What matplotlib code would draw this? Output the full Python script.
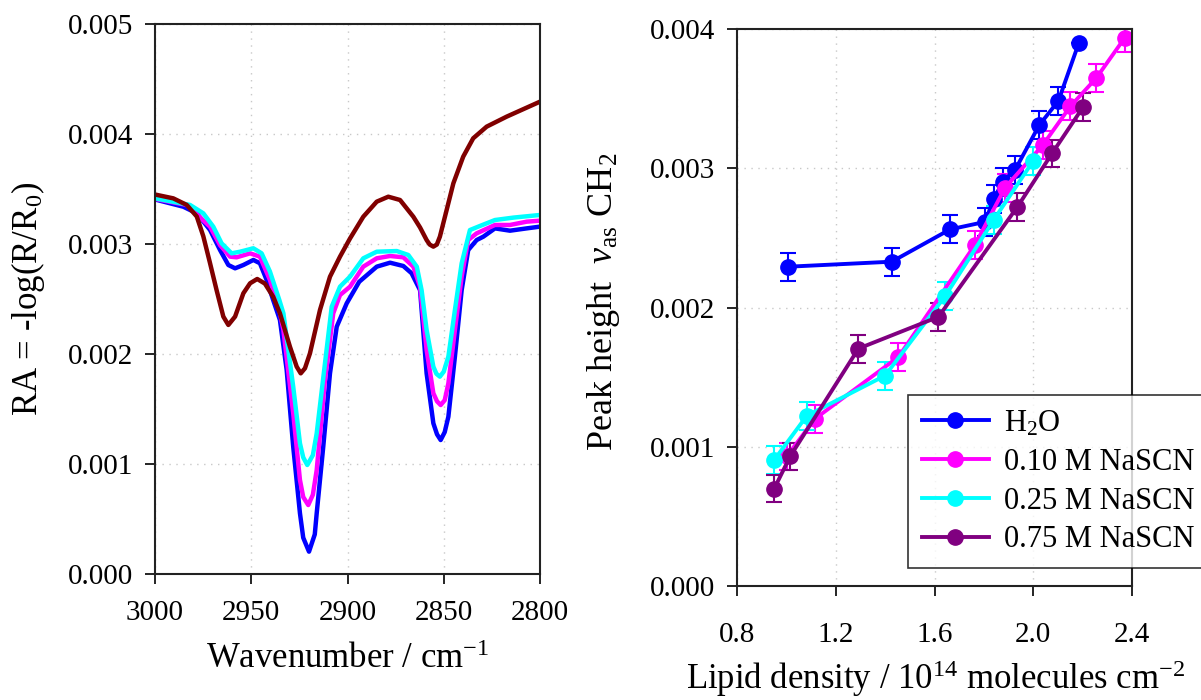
import numpy as np
import matplotlib
matplotlib.use("Agg")
import matplotlib.pyplot as plt
from matplotlib.lines import Line2D
from matplotlib.ticker import MultipleLocator, FormatStrFormatter

plt.rcParams['font.family'] = ['Liberation Serif', 'DejaVu Serif']
plt.rcParams['mathtext.fontset'] = 'custom'
plt.rcParams['mathtext.rm'] = 'Liberation Serif'
plt.rcParams['mathtext.it'] = 'Liberation Serif:italic'

# ---- left panel: IR spectra (RA x 1e-3) ----
wn_h2o = [3000, 2985.3, 2978.3, 2971.4, 2966.2, 2961.9, 2958.4, 2954.1, 2948.9, 2945.5,
          2942, 2938.6, 2935.1, 2931.6, 2928.2, 2924.7, 2923, 2920, 2917, 2916, 2912.6,
          2909.1, 2905.6, 2900.4, 2893.9, 2884.8, 2877.9, 2871, 2866.7, 2862.3, 2858.9,
          2855.4, 2853.5, 2851.6, 2849.5, 2847.6, 2844.2, 2840.7, 2837.3, 2832.9, 2829.4,
          2823.4, 2815.6, 2806.9, 2800]
ra_h2o = [3.405, 3.339, 3.279, 3.127, 2.945, 2.809, 2.779, 2.809, 2.855, 2.825,
          2.673, 2.49, 2.309, 1.855, 1.157, 0.552, 0.33, 0.203, 0.36, 0.552, 1.157,
          1.824, 2.248, 2.461, 2.657, 2.794, 2.83, 2.8, 2.734, 2.58, 1.824,
          1.37, 1.27, 1.218, 1.29, 1.43, 1.976, 2.58, 2.945, 3.036, 3.067,
          3.142, 3.121, 3.142, 3.158]

wn_010 = [3000, 2983.5, 2971.4, 2966.2, 2961, 2957.6, 2950.6, 2945.5, 2940.3, 2935.4,
          2933.3, 2928.2, 2924.7, 2923, 2920.4, 2918, 2916, 2911.7, 2907.4, 2903.9,
          2898.7, 2891.8, 2884.8, 2877.9, 2871, 2865.8, 2862.3, 2858.9, 2855.4, 2853.5,
          2851.6, 2849.5, 2847.6, 2844.2, 2840.7, 2837.3, 2832.9, 2823.4, 2815.6, 2806.9,
          2800]
ra_010 = [3.41, 3.355, 3.157, 2.99, 2.885, 2.879, 2.915, 2.885, 2.673, 2.4,
          2.218, 1.46, 0.855, 0.70, 0.627, 0.72, 0.945, 1.764, 2.37, 2.536,
          2.612, 2.794, 2.87, 2.891, 2.879, 2.794, 2.612, 2.036, 1.643, 1.57,
          1.536, 1.58, 1.733, 2.218, 2.703, 3.036, 3.097, 3.173, 3.173, 3.203,
          3.212]

wn_025 = [3000, 2981.8, 2974.9, 2969.7, 2965.4, 2960.2, 2955.8, 2948.9, 2944.6, 2940.3,
          2935.4, 2933.3, 2928.2, 2924.7, 2923, 2920.9, 2918, 2916, 2911.7, 2908.2,
          2903.9, 2898.7, 2891.8, 2884.8, 2874.4, 2868.4, 2864, 2861.5, 2858.9, 2855.4,
          2853.8, 2852, 2850, 2847.6, 2844.2, 2840.7, 2836.4, 2831.2, 2823.4, 2813.8,
          2800]
ra_025 = [3.415, 3.355, 3.279, 3.157, 3.006, 2.915, 2.93, 2.961, 2.915, 2.75,
          2.49, 2.37, 1.703, 1.188, 1.06, 0.991, 1.08, 1.279, 1.915, 2.43,
          2.612, 2.703, 2.87, 2.93, 2.936, 2.9, 2.794, 2.58, 2.218, 1.885,
          1.82, 1.794, 1.84, 1.976, 2.4, 2.824, 3.127, 3.164, 3.218, 3.24,
          3.264]

wn_075 = [3000, 2990.5, 2983.5, 2978.3, 2974.9, 2971.4, 2968, 2964.5, 2961.9, 2958.4,
          2954.1, 2950.6, 2946.9, 2942.9, 2938.6, 2935.1, 2929.9, 2926.4, 2924.3, 2922.1,
          2919.5, 2914.3, 2909.1, 2903.9, 2898.7, 2891.8, 2884.8, 2878.8, 2872.7, 2865.8,
          2862.3, 2858.9, 2857.3, 2855.4, 2853.6, 2852, 2848.5, 2845, 2839.9, 2834.7,
          2827.7, 2817.3, 2800]
ra_075 = [3.45, 3.415, 3.355, 3.25, 3.07, 2.825, 2.58, 2.34, 2.264, 2.34,
          2.552, 2.643, 2.682, 2.64, 2.52, 2.37, 2.066, 1.885, 1.824, 1.87,
          2.006, 2.4, 2.703, 2.885, 3.05, 3.248, 3.385, 3.43, 3.4, 3.248,
          3.15, 3.036, 2.995, 2.976, 2.995, 3.067, 3.309, 3.552, 3.794, 3.961,
          4.067, 4.158, 4.294]

# ---- right panel: peak height (x 1e-3) vs lipid density ----
dens_h2o = [1.008, 1.427, 1.663, 1.805, 1.839, 1.877, 1.927, 2.024, 2.102, 2.184]
peak_h2o = [2.293, 2.329, 2.561, 2.615, 2.777, 2.904, 2.99, 3.309, 3.484, 3.897]
err_h2o = [0.1, 0.1, 0.1, 0.1, 0.1, 0.1, 0.1, 0.1, 0.1, 0.0]

dens_010 = [1.001, 1.116, 1.454, 1.763, 1.886, 2.038, 2.150, 2.255, 2.370]
peak_010 = [0.93, 1.201, 1.645, 2.447, 2.861, 3.165, 3.444, 3.647, 3.935]
err_010 = [0.1] * 9

dens_025 = [0.951, 1.083, 1.40, 1.643, 1.839, 1.999]
peak_025 = [0.906, 1.223, 1.511, 2.081, 2.627, 3.05]
err_025 = [0.1] * 6

dens_075 = [0.951, 1.015, 1.292, 1.616, 1.936, 2.076, 2.201]
peak_075 = [0.70, 0.93, 1.705, 1.933, 2.723, 3.106, 3.437]
err_075 = [0.1] * 7

labels = ['H$_2$O', '0.10 M NaSCN', '0.25 M NaSCN', '0.75 M NaSCN']

fig = plt.figure(figsize=(12.01, 7.0), dpi=100)
ax1 = fig.add_axes([155 / 1201, 126 / 700, 385 / 1201, 550 / 700])
ax2 = fig.add_axes([737 / 1201, 114 / 700, 395 / 1201, 557 / 700])

grid_kw = dict(color='#c8c8c8', linestyle=(0, (1, 4)), linewidth=1.0)

# (1) spectra
for wn, ra, c in [(wn_h2o, ra_h2o, '#0000ff'), (wn_010, ra_010, '#ff00ff'),
                  (wn_025, ra_025, '#00ffff'), (wn_075, ra_075, '#800000')]:
    ax1.plot(wn, np.array(ra) * 1e-3, color=c, linewidth=3.2,
             solid_joinstyle='round', solid_capstyle='round')
ax1.set_xlim(3000, 2800)
ax1.set_ylim(0, 0.005)
ax1.xaxis.set_major_locator(MultipleLocator(50))
ax1.yaxis.set_major_locator(MultipleLocator(0.001))
ax1.yaxis.set_major_formatter(FormatStrFormatter('%.3f'))
ax1.grid(True, **grid_kw)
ax1.set_xlabel('Wavenumber / cm$^{-1}$', fontsize=25)
ax1.set_ylabel('RA = -log(R/R$_0$)', fontsize=25)
ax1.xaxis.set_label_coords(0.5, -0.125)
ax1.yaxis.set_label_coords(-0.28, 0.5)

# (2) peak height
series = [(dens_h2o, peak_h2o, err_h2o, '#0000ff'),
          (dens_010, peak_010, err_010, '#ff00ff'),
          (dens_025, peak_025, err_025, '#00ffff'),
          (dens_075, peak_075, err_075, '#800080')]
handles = []
for (x, y, e, c), lab in zip(series, labels):
    ax2.errorbar(x, np.array(y) * 1e-3, yerr=np.array(e) * 1e-3, color=c,
                 linewidth=2.8, marker='o', markersize=11, capsize=6,
                 elinewidth=1.5, capthick=1.5)
    handles.append(Line2D([], [], color=c, linewidth=2.8, marker='o',
                          markersize=11, label=lab))
ax2.set_xlim(0.8, 2.4)
ax2.set_ylim(0, 0.004)
ax2.xaxis.set_major_locator(MultipleLocator(0.4))
ax2.xaxis.set_major_formatter(FormatStrFormatter('%.1f'))
ax2.yaxis.set_major_locator(MultipleLocator(0.001))
ax2.yaxis.set_major_formatter(FormatStrFormatter('%.3f'))
ax2.grid(True, **grid_kw)
ax2.set_xlabel('Lipid density / 10$^{14}$ molecules cm$^{-2}$', fontsize=25)
ax2.set_ylabel('Peak height  $\\it{\\nu}_{\\rm as}$ CH$_2$', fontsize=26)
ax2.xaxis.set_label_coords(0.504, -0.13)
ax2.yaxis.set_label_coords(-0.29, 0.51)
leg = ax2.legend(handles=handles, loc='lower left', bbox_to_anchor=(0.433, 0.032),
                 fontsize=22, frameon=True, fancybox=False, handlelength=2.2,
                 borderpad=0.45, labelspacing=0.32, handletextpad=0.5,
                 borderaxespad=0.0)
leg.get_frame().set_edgecolor('black')
leg.get_frame().set_linewidth(1.2)

for ax in (ax1, ax2):
    ax.tick_params(direction='out', length=7, width=1.2, labelsize=21, pad=9)
    for s in ax.spines.values():
        s.set_linewidth(1.5)
        s.set_color('#222222')
ax1.tick_params(axis='x', pad=12)
ax2.tick_params(axis='x', pad=19)

fig.savefig('out.png', dpi=100)
